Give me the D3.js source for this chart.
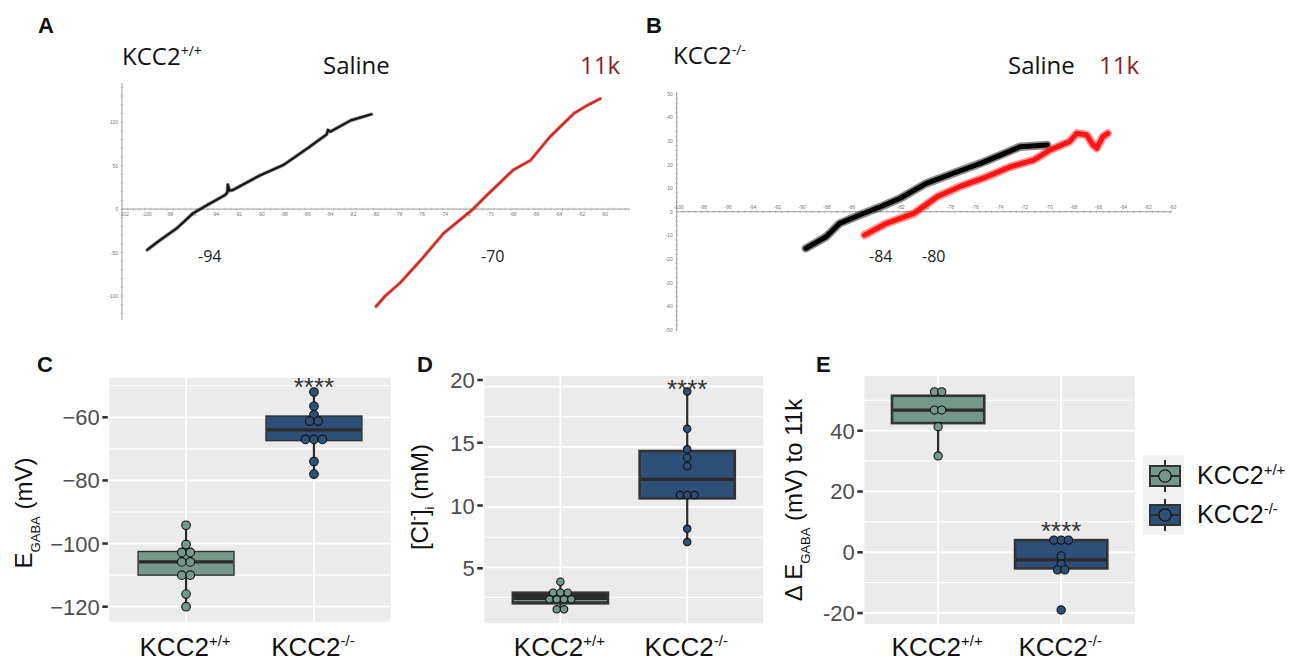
<!DOCTYPE html>
<html>
<head>
<meta charset="utf-8">
<script src="https://cdn.jsdelivr.net/npm/d3@7"></script>
<style>
body{margin:0;background:#fff}
svg{display:block}
</style>
</head>
<body>
<svg id="fig" width="1290" height="662"></svg>
<script>
// ---- data ----
var genotypes = ["+/+", "-/-"];

// I-V ramps, [holding mV, current]
var traceASaline = [[-99.8,-47],[-98.7,-36],[-97.2,-22],[-95.8,-5],[-94.5,5],[-93.0,16],[-92.8,19],[-92.75,28],[-92.6,21],[-92.3,22],
    [-89.9,39],[-87.9,50.6],[-85.8,69.7],[-84.1,86],[-84.0,91],[-83.8,89],[-82,102],[-80.2,109]];
var traceA11k = [[-79.8,-112],[-79.0,-100],[-77.7,-85],[-75.9,-59],[-73.9,-28],[-71.4,-1],[-70.1,16],[-67.8,45],
    [-66.3,56],[-64.6,83],[-62.5,110],[-61.3,119.5],[-60.2,127]];
var traceBSaline = [[-89.55,-15.5],[-87.9,-10.6],[-86.8,-4.9],[-85.2,-1.4],[-83.5,2.1],[-81.9,5.7],[-79.8,12],
    [-77.6,16.3],[-75.4,20.5],[-73.8,24],[-72.2,27.5],[-70,28.3]];
var traceB11k = [[-84.8,-9.9],[-83,-4.9],[-80.8,-0.7],[-78.9,6.4],[-77.1,10.6],[-74.9,14.8],[-73,19],[-71.1,21.9],
    [-69.8,26.1],[-68.2,29.7],[-67.6,33.2],[-66.8,32.5],[-66.3,28.3],[-66,26.9],[-65.5,31.8],[-65.1,33.2]];
var reversalA = [-94, -70];
var reversalB = [-84, -80];

var ivTicksA = [-102,-100,-98,-96,-94,-92,-90,-88,-86,-84,-82,-80,-78,-76,-74,-72,-70,-68,-66,-64,-62,-60];
var ivTicksB = [-100,-98,-96,-94,-92,-90,-88,-86,-84,-82,-80,-78,-76,-74,-72,-70,-68,-66,-64,-62,-60];
var ivYTicksA = [-100,-50,0,50,100];
var ivYTicksB = [-50,-40,-30,-20,-10,0,10,20,30,40,50];

// C: E_GABA (mV)
var cWT = [-94.2,-100.3,-102.8,-102.8,-105.8,-105.8,-110,-110,-116,-120];
var cKO = [-52,-56.5,-59.2,-61.2,-61.2,-67,-67,-67,-74,-78];
var cBoxWT = [-120,-110,-105.8,-102.5,-94.2];   // lower, q1, median, q3, upper
var cBoxKO = [-78,-67.4,-64,-59.6,-52];
var cTicks = [-120,-100,-80,-60];
var cMinor = [-110,-90,-70,-50];

// D: [Cl-]i (mM)
var dWT = [3.8,2.89,2.89,2.89,2.34,2.34,2.34,2.34,1.51,1.51];
var dKO = [19.6,16.5,14.8,14.1,13.4,11.0,11.0,11.0,8.2,7.1];
var dBoxWT = [1.51,2.01,2.23,2.89,3.8];
var dBoxKO = [7.1,10.73,12.3,14.66,19.6];
var dTicks = [5,10,15,20];
var dMinor = [2.5,7.5,12.5,17.5];

// E: delta E_GABA (mV) to 11k
var eWT = [52.8,52.8,46.8,46.8,41.3,31.7];
var eKO = [4.0,4.0,4.0,-1.2,-3.9,-5.8,-5.8,-19];
var eBoxWT = [31.7,42.5,46.8,51.5,52.8];
var eBoxKO = [-5.8,-5.3,-2.5,4.0,4.0];
var eTicks = [-20,0,20,40];
var eMinor = [-10,10,30,50];

var green = "#74998a", blue = "#2e5078";
var sans = "'Liberation Sans', Arial, sans-serif";
var open = "'Open Sans', 'Noto Sans', sans-serif";

var svg = d3.select("#fig");
svg.append("rect").attr("width",1290).attr("height",662).attr("fill","#fff");

function supText(g, x, y, base, sup, size, supSize, anchor, family, fill) {
    var t = g.append("text")
        .attr("x",x).attr("y",y)
        .attr("text-anchor",anchor)
        .attr("font-family",family)
        .attr("font-size",size)
        .attr("fill",fill);
    t.append("tspan").text(base);
    t.append("tspan").attr("font-size",supSize).attr("dy",-size*0.38).text(sup);
    return t;
}

function letter(x, y, s) {
    svg.append("text").attr("x",x).attr("y",y)
        .attr("font-family",sans).attr("font-weight","bold")
        .attr("font-size",22).attr("fill","#111").text(s);
}

// ---- I-V panels ----
function ivPanel(p) {
    var g = svg.append("g");
    var x = d3.scaleLinear().domain(p.xd).range(p.xr);
    var y = d3.scaleLinear().domain(p.yd).range(p.yr);

    g.append("line").attr("x1",p.xr[0]).attr("x2",p.xr[1])
        .attr("y1",y(0)).attr("y2",y(0)).attr("stroke","#9a9a9a").attr("stroke-width",1);
    g.append("line").attr("x1",p.xr[0]).attr("x2",p.xr[0])
        .attr("y1",p.yr[0]).attr("y2",p.yr[1]).attr("stroke","#9a9a9a").attr("stroke-width",1);

    g.selectAll(".mx").data(d3.range(p.xd[0], p.xd[1], 0.5)).enter().append("line")
        .attr("x1",function(d){return x(d)}).attr("x2",function(d){return x(d)})
        .attr("y1",y(0)-1.5).attr("y2",y(0)+1.5).attr("stroke","#aaa").attr("stroke-width",0.6);
    g.selectAll(".my").data(p.yMinor).enter().append("line")
        .attr("x1",p.xr[0]-1.5).attr("x2",p.xr[0]+1.5)
        .attr("y1",function(d){return y(d)}).attr("y2",function(d){return y(d)})
        .attr("stroke","#aaa").attr("stroke-width",0.6);

    g.selectAll(".lx").data(p.xTicks).enter().append("text")
        .attr("x",function(d){return x(d)+2}).attr("y",y(0)+p.labOff)
        .attr("text-anchor","middle").attr("font-family",sans).attr("font-size",5)
        .attr("fill","#777").text(function(d){return d});
    g.selectAll(".ly").data(p.yTicks).enter().append("text")
        .attr("x",p.xr[0]-4).attr("y",function(d){return y(d)+2})
        .attr("text-anchor","end").attr("font-family",sans).attr("font-size",5)
        .attr("fill","#777").text(function(d){return d});

    var line = d3.line().x(function(d){return x(d[0])}).y(function(d){return y(d[1])});
    p.traces.forEach(function(t){
        // soft halo for the recording noise, then the core trace
        g.append("path").attr("d",line(t.data)).attr("fill","none")
            .attr("stroke",t.color).attr("stroke-opacity",0.45).attr("stroke-width",t.w*1.7)
            .attr("stroke-linejoin","round").attr("stroke-linecap","round");
        g.append("path").attr("d",line(t.data)).attr("fill","none")
            .attr("stroke",t.color).attr("stroke-width",t.w)
            .attr("stroke-linejoin","round").attr("stroke-linecap","round");
    });

    g.selectAll(".rv").data(p.rev).enter().append("text")
        .attr("x",function(d,i){return p.revX[i]}).attr("y",262)
        .attr("font-family",open).attr("font-size",16).attr("fill","#222")
        .text(function(d){return d});
}

ivPanel({
    xd:[-102,-57.6], xr:[122,630], yd:[-127.6,145], yr:[320,83],
    xTicks:ivTicksA, yTicks:ivYTicksA, yMinor:d3.range(-120,141,10), labOff:7,
    traces:[{data:traceASaline,color:"#161616",w:2.2},{data:traceA11k,color:"#c8281e",w:2.2}],
    rev:reversalA, revX:[198,481]
});
ivPanel({
    xd:[-100,-59.9], xr:[676.7,1172], yd:[-50.5,50.5], yr:[331,92.5],
    xTicks:ivTicksB, yTicks:ivYTicksB, yMinor:d3.range(-50,51,2), labOff:-3,
    traces:[{data:traceBSaline,color:"#000",w:5},{data:traceB11k,color:"#ff1414",w:5}],
    rev:reversalB, revX:[869,922]
});

letter(38,33,"A");
letter(646,33,"B");
supText(svg,122,65,"KCC2","+/+",24,14,"start",open,"#111");
supText(svg,673,64,"KCC2","-/-",24,14,"start",open,"#111");
svg.append("text").attr("x",323).attr("y",74).attr("font-family",open).attr("font-size",24).attr("fill","#111").text("Saline");
svg.append("text").attr("x",580).attr("y",74).attr("font-family",open).attr("font-size",24).attr("fill","#8e1d1d").text("11k");
svg.append("text").attr("x",1008).attr("y",74).attr("font-family",open).attr("font-size",24).attr("fill","#111").text("Saline");
svg.append("text").attr("x",1099).attr("y",74).attr("font-family",open).attr("font-size",24).attr("fill","#8e1d1d").text("11k");

// ---- box panels ----
function boxPanel(p) {
    var g = svg.append("g");
    var x = d3.scalePoint().domain(genotypes).range([p.x0,p.x1]).padding(0.6);
    var y = d3.scaleLinear().domain(p.domain).range([p.y1,p.y0]);
    var ty = p.tickRange ? d3.scaleLinear().domain([p.ticks[0],p.ticks[p.ticks.length-1]]).range(p.tickRange) : y;

    g.append("rect").attr("x",p.x0).attr("y",p.y0)
        .attr("width",p.x1-p.x0).attr("height",p.y1-p.y0).attr("fill","#ebebeb");
    g.selectAll(".mn").data(p.minor).enter().append("line")
        .attr("x1",p.x0).attr("x2",p.x1)
        .attr("y1",function(d){return y(d)}).attr("y2",function(d){return y(d)})
        .attr("stroke","#fff").attr("stroke-width",1.1);
    g.selectAll(".mj").data(p.ticks).enter().append("line")
        .attr("x1",p.x0).attr("x2",p.x1)
        .attr("y1",function(d){return y(d)}).attr("y2",function(d){return y(d)})
        .attr("stroke","#fff").attr("stroke-width",1.8);
    g.selectAll(".vg").data(genotypes).enter().append("line")
        .attr("x1",function(d){return x(d)}).attr("x2",function(d){return x(d)})
        .attr("y1",p.y0).attr("y2",p.y1)
        .attr("stroke","#fff").attr("stroke-width",1.8);

    var bw = x.step()*0.75;
    p.groups.forEach(function(gr,i){
        var cx = x(genotypes[i]), b = gr.box;
        g.append("line").attr("x1",cx).attr("x2",cx).attr("y1",y(b[0])).attr("y2",y(b[1]))
            .attr("stroke","#2b2b2b").attr("stroke-width",2.2);
        g.append("line").attr("x1",cx).attr("x2",cx).attr("y1",y(b[3])).attr("y2",y(b[4]))
            .attr("stroke","#2b2b2b").attr("stroke-width",2.2);
        g.append("rect").attr("x",cx-bw/2).attr("width",bw)
            .attr("y",y(b[3])).attr("height",y(b[1])-y(b[3]))
            .attr("fill",gr.boxFill || gr.color).attr("stroke","#333").attr("stroke-width",p.boxStroke);
        g.append("line").attr("x1",cx-bw/2+1).attr("x2",cx+bw/2-1)
            .attr("y1",y(b[2])).attr("y2",y(b[2]))
            .attr("stroke",gr.medColor || "#2b2b2b").attr("stroke-width",gr.medW || 3.2);

        var counts = d3.rollup(gr.vals, function(v){return v.length}, function(d){return d});
        var seen = new Map();
        gr.vals.forEach(function(v){
            var n = counts.get(v), k = seen.get(v) || 0;
            seen.set(v,k+1);
            g.append("circle").attr("cx",cx+(k-(n-1)/2)*p.dotGap).attr("cy",y(v))
                .attr("r",p.dotR).attr("fill",gr.color)
                .attr("stroke","#111").attr("stroke-width",1.1);
        });
    });

    g.append("text").attr("x",x(genotypes[1])).attr("y",y(p.starY))
        .attr("text-anchor","middle").attr("font-family",sans).attr("font-size",26)
        .attr("fill","#333").text("****");

    g.selectAll(".tk").data(p.ticks).enter().append("line")
        .attr("x1",p.x0-7).attr("x2",p.x0-1.5)
        .attr("y1",function(d){return ty(d)}).attr("y2",function(d){return ty(d)})
        .attr("stroke","#333").attr("stroke-width",2.6);
    g.selectAll(".tl").data(p.ticks).enter().append("text")
        .attr("x",p.x0-9.5).attr("y",function(d){return ty(d)+8})
        .attr("text-anchor","end").attr("font-family",sans).attr("font-size",22)
        .attr("fill","#4d4d4d").text(p.fmt);

    genotypes.forEach(function(gt){
        supText(g,x(gt)-1,656,"KCC2",gt,26,15,"middle",sans,"#111");
    });
}

boxPanel({
    x0:109.3, x1:390.7, y0:377.7, y1:621.7, domain:[-124.75,-47.46],
    ticks:cTicks, minor:cMinor, fmt:function(d){return String(d).replace("-","\u2212")},
    boxStroke:1.4, dotR:4.3, dotGap:8.5, starY:-53.3,
    groups:[{vals:cWT,box:cBoxWT,color:green},{vals:cKO,box:cBoxKO,color:blue}]
});
boxPanel({
    x0:484.3, x1:763.3, y0:376, y1:623.3, domain:[0.35,20.89],
    ticks:dTicks, minor:dMinor, fmt:function(d){return d}, tickRange:[568.3,380],
    boxStroke:2.6, dotR:3.7, dotGap:7.3, starY:19.06,
    groups:[{vals:dWT,box:dBoxWT,color:green,boxFill:"#2b2b2b",medColor:green,medW:1.2},
            {vals:dKO,box:dBoxKO,color:blue}]
});
boxPanel({
    x0:864.3, x1:1135, y0:376, y1:624, domain:[-23.6,58],
    ticks:eTicks, minor:eMinor, fmt:function(d){return d}, 
    boxStroke:2.6, dotR:4.1, dotGap:7.3, starY:3.95,
    groups:[{vals:eWT,box:eBoxWT,color:green},{vals:eKO,box:eBoxKO,color:blue}]
});

letter(37,372,"C");
letter(417,372,"D");
letter(816,372,"E");

// rotated axis titles
var tC = svg.append("text").attr("transform","translate(32,513) rotate(-90)")
    .attr("text-anchor","middle").attr("font-family",sans).attr("font-size",24).attr("fill","#111");
tC.append("tspan").text("E");
tC.append("tspan").attr("font-size",13).attr("dy",8).text("GABA");
tC.append("tspan").attr("dy",-8).text(" (mV)");

var tD = svg.append("text").attr("transform","translate(428,497) rotate(-90)")
    .attr("text-anchor","middle").attr("font-family",sans).attr("font-size",24).attr("fill","#111");
tD.append("tspan").text("[Cl");
tD.append("tspan").attr("font-size",14).attr("dy",-9).text("-");
tD.append("tspan").attr("dy",9).text("]");
tD.append("tspan").attr("font-size",13).attr("dy",6).text("i");
tD.append("tspan").attr("dy",-6).text(" (mM)");

var tE = svg.append("text").attr("transform","translate(802,500) rotate(-90)")
    .attr("text-anchor","middle").attr("font-family",sans).attr("font-size",24).attr("fill","#111");
tE.append("tspan").text("\u0394 E");
tE.append("tspan").attr("font-size",13).attr("dy",8).text("GABA");
tE.append("tspan").attr("dy",-8).text(" (mV) to 11k");

// legend
var leg = svg.append("g");
leg.append("rect").attr("x",1143).attr("y",455).attr("width",41).attr("height",80).attr("fill","#f2f2f2");
var legY = [476, 515];
[green, blue].forEach(function(c,i){
    var cy = legY[i];
    leg.append("line").attr("x1",1165).attr("x2",1165).attr("y1",cy-16).attr("y2",cy+16)
        .attr("stroke","#2b2b2b").attr("stroke-width",2);
    leg.append("rect").attr("x",1150).attr("y",cy-10).attr("width",30).attr("height",20)
        .attr("fill",c).attr("stroke","#333").attr("stroke-width",2);
    leg.append("line").attr("x1",1151).attr("x2",1179).attr("y1",cy).attr("y2",cy)
        .attr("stroke","#2b2b2b").attr("stroke-width",2);
    leg.append("circle").attr("cx",1165).attr("cy",cy).attr("r",6.2)
        .attr("fill",c).attr("stroke","#111").attr("stroke-width",1.3);
    supText(leg,1197,cy+8,"KCC2",genotypes[i],25,15,"start",sans,"#111");
});
</script>
</body>
</html>
